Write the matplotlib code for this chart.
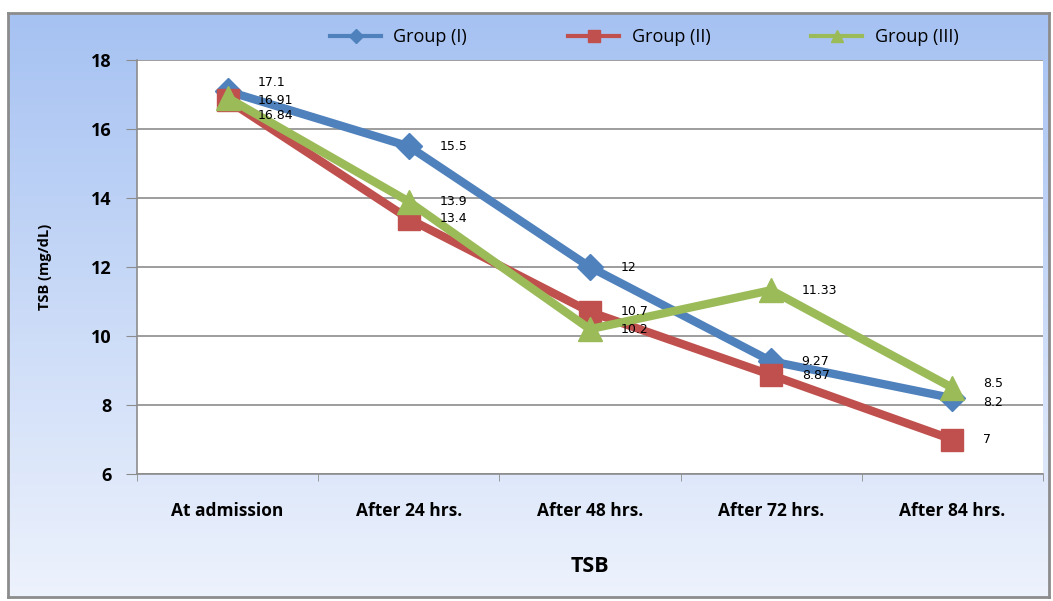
import numpy as np
import matplotlib
matplotlib.use("Agg")
import matplotlib.pyplot as plt

# Data
categories = ["At admission", "After 24 hrs.", "After 48 hrs.", "After 72 hrs.", "After 84 hrs."]
group_1 = [17.1, 15.5, 12, 9.27, 8.2]
group_2 = [16.84, 13.4, 10.7, 8.87, 7]
group_3 = [16.91, 13.9, 10.2, 11.33, 8.5]
series_names = ["Group (I)", "Group (II)", "Group (III)"]
y_ticks = [6, 8, 10, 12, 14, 16, 18]

colors = ["#4F81BD", "#C0504D", "#9BBB59"]
markers = ["D", "s", "^"]
msizes = [13, 16, 17]

fig = plt.figure(figsize=(10.53, 6.01), dpi=100)

# gradient background inside a grey frame
bg = fig.add_axes([0.008, 0.006, 0.988, 0.972], zorder=-5)
grad = np.linspace(0, 1, 256).reshape(-1, 1)
top = np.array([0.65, 0.76, 0.95])
bottom = np.array([0.93, 0.95, 0.99])
img = top[None, None, :] * (1 - grad[:, :, None]) + bottom[None, None, :] * grad[:, :, None]
bg.imshow(img, aspect="auto", extent=[0, 1, 0, 1])
bg.set_xticks([])
bg.set_yticks([])
for sp in bg.spines.values():
    sp.set_color("#8c8c8c")
    sp.set_linewidth(2)

ax = fig.add_axes([0.130, 0.2113, 0.8605, 0.6887])
ax.set_facecolor("white")

x = np.arange(len(categories))
all_series = [group_1, group_2, group_3]
for vals, name, c, m, ms in zip(all_series, series_names, colors, markers, msizes):
    ax.plot(x, vals, color=c, lw=6, marker=m, markersize=ms, label=name,
            markeredgecolor=c, solid_joinstyle="miter")

# small vertical nudges so crowded labels stay readable
nudge = {(0, 0): 6, (1, 0): -11, (2, 0): -2, (0, 4): -3, (2, 4): 3}
for si, vals in enumerate(all_series):
    for xi, v in zip(x, vals):
        dy = nudge.get((si, xi), 0)
        ax.annotate(f"{v:g}", (xi, v), xytext=(22, dy), textcoords="offset points",
                    va="center", ha="left", fontsize=9, color="black")

ax.set_xlim(-0.5, len(categories) - 0.5)
ax.set_ylim(6, 18)
ax.set_yticks(y_ticks)
ax.set_xticks(x)
ax.set_xticks(np.arange(len(categories) + 1) - 0.5, minor=True)
ax.set_xticklabels(categories, fontsize=12.5, fontweight="bold", family="Open Sans")
ax.set_yticklabels([str(t) for t in y_ticks], fontsize=13, fontweight="bold", family="Open Sans")
ax.tick_params(axis="y", length=8, color="#8c8c8c", pad=10)
ax.tick_params(axis="x", which="major", length=0, pad=20)
ax.tick_params(axis="x", which="minor", length=5, color="#8c8c8c")
ax.grid(axis="y", color="#8c8c8c", lw=1.2)
ax.set_axisbelow(True)
for side in ["top", "right"]:
    ax.spines[side].set_visible(False)
for side in ["left", "bottom"]:
    ax.spines[side].set_color("#8c8c8c")
    ax.spines[side].set_linewidth(1.2)

ax.set_ylabel("TSB (mg/dL)", fontsize=10.5, fontweight="bold", family="Open Sans", labelpad=28)
ax.set_xlabel("TSB", fontsize=15.5, fontweight="bold", family="Open Sans", labelpad=26)

leg = ax.legend(loc="center", bbox_to_anchor=(0.56, 1.055), ncol=3, frameon=False,
                handlelength=2.8, handletextpad=0.7, columnspacing=5.6, markerscale=0.55,
                prop={"family": "Open Sans", "size": 13})
for line in leg.get_lines():
    line.set_linewidth(3)

fig.savefig("out.png", dpi=100)
